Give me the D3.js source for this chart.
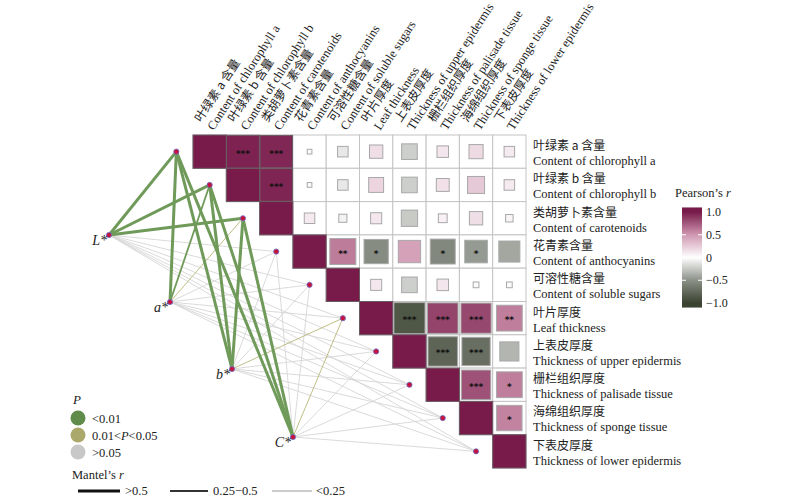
<!DOCTYPE html>
<html>
<head>
<meta charset="utf-8">
<script src="https://cdn.jsdelivr.net/npm/d3@7"></script>
<style>
  body { margin: 0; background: #fff; }
  svg text { font-family: "Liberation Serif", "Times New Roman", serif; }
  .cn { font-family: "Noto Sans CJK SC", sans-serif; }
</style>
</head>
<body>
<svg id="chart" width="800" height="499"></svg>
<script>
// variable labels (same order for rows and columns)
var labelsCn = ['叶绿素 a 含量', '叶绿素 b 含量', '类胡萝卜素含量', '花青素含量', '可溶性糖含量',
    '叶片厚度', '上表皮厚度', '栅栏组织厚度', '海绵组织厚度', '下表皮厚度'];
var labelsEn = ['Content of chlorophyll a', 'Content of chlorophyll b', 'Content of carotenoids',
    'Content of anthocyanins', 'Content of soluble sugars', 'Leaf thickness',
    'Thickness of upper epidermis', 'Thickness of palisade tissue', 'Thickness of sponge tissue',
    'Thickness of lower epidermis'];

// Pearson's r, upper triangle: row i holds columns i..9
var corrRows = [
    [1, 0.97, 0.95, 0.02, -0.10, 0.16, -0.22, 0.12, 0.18, 0.10],
    [1, 0.96, 0.02, -0.10, 0.20, -0.22, 0.15, 0.26, 0.10],
    [1, 0.10, -0.06, 0.11, -0.24, 0.07, 0.16, 0.05],
    [1, 0.61, -0.53, 0.45, -0.56, -0.46, -0.40],
    [1, 0.11, -0.22, 0.12, 0.03, 0.03],
    [1, -0.87, 0.84, 0.82, 0.60],
    [1, -0.78, -0.72, -0.33],
    [1, 0.78, 0.60],
    [1, 0.58],
    [1]
];
var sigRows = [
    ['', '***', '***', '', '', '', '', '', '', ''],
    ['', '***', '', '', '', '', '', '', ''],
    ['', '', '', '', '', '', '', ''],
    ['', '**', '*', '', '*', '*', ''],
    ['', '', '', '', '', ''],
    ['', '***', '***', '***', '**'],
    ['', '***', '***', ''],
    ['', '***', '*'],
    ['', '*'],
    ['']
];

// Mantel test: environment groups vs. each variable
var groups = ['L*', 'a*', 'b*', 'C*'];
var mantelR = [
    [0.62, 0.58, 0.55, 0.08, 0.10, 0.12, 0.06, 0.09, 0.07, 0.05],
    [0.56, 0.41, 0.18, 0.07, 0.09, 0.11, 0.05, 0.08, 0.06, 0.04],
    [0.60, 0.57, 0.52, 0.10, 0.08, 0.20, 0.07, 0.10, 0.09, 0.06],
    [0.63, 0.60, 0.54, 0.09, 0.07, 0.21, 0.08, 0.11, 0.10, 0.05]
];
var mantelP = [
    [0.001, 0.001, 0.002, 0.42, 0.36, 0.28, 0.55, 0.40, 0.47, 0.61],
    [0.001, 0.004, 0.030, 0.49, 0.38, 0.31, 0.58, 0.44, 0.52, 0.66],
    [0.001, 0.001, 0.003, 0.35, 0.41, 0.040, 0.50, 0.37, 0.43, 0.57],
    [0.001, 0.001, 0.002, 0.39, 0.45, 0.020, 0.47, 0.33, 0.38, 0.60]
];

var pLevels = ['<0.01', '0.01<P<0.05', '>0.05'];
var rLevels = ['>0.5', '0.25\u22120.5', '<0.25'];
var colorTicks = [1.0, 0.5, 0, -0.5, -1.0];

var svg = d3.select('#chart');
var n = labelsEn.length;
var idx = d3.range(n);

var band = d3.scaleBand().domain(idx).range([193, 526]);
var bandY = d3.scaleBand().domain(idx).range([135, 468]);
var cell = band.bandwidth();
var side = d3.scaleSqrt().domain([0, 1]).range([0, cell]);
var color = d3.scaleLinear()
    .domain([-1, -0.5, 0, 0.5, 1])
    .range(['#3a4230', '#8c9188', '#ffffff', '#cf97b0', '#781b4b']);

var cells = [];
corrRows.forEach(function(row, i) {
    row.forEach(function(r, k) {
        cells.push({i: i, j: i + k, r: r, sig: sigRows[i][k]});
    });
});

// ---- network (Mantel) ----
var nodePos = [[109, 235], [170, 302], [232, 369], [293, 437]];
var edges = [];
groups.forEach(function(g, gi) {
    idx.forEach(function(j) {
        edges.push({g: gi, j: j, r: mantelR[gi][j], p: mantelP[gi][j]});
    });
});
edges.sort(function(a, b) { return b.p - a.p; });

function pClass(p) { return p < 0.01 ? 0 : (p < 0.05 ? 1 : 2); }
function rClass(r) { return r > 0.5 ? 0 : (r >= 0.25 ? 1 : 2); }
var edgeColor = ['#6f9a5a', '#b8b878', '#d6d6d6'];
var edgeWidth = [3, 1.8, 0.9];
function endX(j) { return band(j) - cell / 2; }
function endY(j) { return bandY(j) + cell / 2; }

svg.append('g').selectAll('line')
    .data(edges)
    .enter().append('line')
        .attr('x1', function(d) { return nodePos[d.g][0]; })
        .attr('y1', function(d) { return nodePos[d.g][1]; })
        .attr('x2', function(d) { return endX(d.j); })
        .attr('y2', function(d) { return endY(d.j); })
        .style('stroke', function(d) { return edgeColor[pClass(d.p)]; })
        .style('stroke-width', function(d) { return edgeWidth[rClass(d.r)]; });

// ---- correlation matrix ----
var grid = svg.append('g');
grid.selectAll('rect.cell')
    .data(cells)
    .enter().append('rect')
        .attr('class', 'cell')
        .attr('x', function(d) { return band(d.j); })
        .attr('y', function(d) { return bandY(d.i); })
        .attr('width', cell)
        .attr('height', cell)
        .style('fill', '#fff')
        .style('stroke', '#c4c4c4')
        .style('stroke-width', 1);

grid.selectAll('rect.sq')
    .data(cells)
    .enter().append('rect')
        .attr('class', 'sq')
        .attr('x', function(d) { return band(d.j) + (cell - side(Math.abs(d.r))) / 2; })
        .attr('y', function(d) { return bandY(d.i) + (cell - side(Math.abs(d.r))) / 2; })
        .attr('width', function(d) { return side(Math.abs(d.r)); })
        .attr('height', function(d) { return side(Math.abs(d.r)); })
        .style('fill', function(d) { return color(d.r); })
        .style('stroke', function(d) { return Math.abs(d.r) > 0.9 ? '#6a5a62' : '#a8a8a8'; })
        .style('stroke-width', 1);

grid.selectAll('text.sig')
    .data(cells.filter(function(d) { return d.sig; }))
    .enter().append('text')
        .attr('class', 'sig')
        .attr('x', function(d) { return band(d.j) + cell / 2; })
        .attr('y', function(d) { return bandY(d.i) + cell / 2 + 5; })
        .attr('text-anchor', 'middle')
        .style('font-family', 'DejaVu Sans, sans-serif')
        .style('font-size', '9px')
        .style('font-weight', 'bold')
        .style('fill', '#111')
        .text(function(d) { return d.sig; });

// ---- node points and labels ----
var nodeG = svg.append('g');
idx.forEach(function(j) {
    nodeG.append('circle').attr('cx', endX(j)).attr('cy', endY(j)).attr('r', 2.6)
        .style('fill', '#c8123c').style('stroke', '#6a70c8').style('stroke-width', 0.8);
});
groups.forEach(function(g, gi) {
    nodeG.append('circle').attr('cx', nodePos[gi][0]).attr('cy', nodePos[gi][1]).attr('r', 2.6)
        .style('fill', '#c8123c').style('stroke', '#6a70c8').style('stroke-width', 0.8);
    nodeG.append('text')
        .attr('x', nodePos[gi][0] - 2)
        .attr('y', nodePos[gi][1] + 10)
        .attr('text-anchor', 'end')
        .style('font-size', '14px')
        .style('font-style', 'italic')
        .style('fill', '#222')
        .text(g);
});

// ---- right labels ----
var rightG = svg.append('g');
idx.forEach(function(i) {
    rightG.append('text').attr('class', 'cn')
        .attr('x', 533).attr('y', bandY(i) + 15)
        .style('font-size', '12px').style('fill', '#222')
        .text(labelsCn[i]);
    rightG.append('text')
        .attr('x', 533).attr('y', bandY(i) + 30)
        .style('font-size', '12.5px').style('fill', '#222')
        .text(labelsEn[i]);
});

// ---- top labels ----
var topG = svg.append('g');
idx.forEach(function(j) {
    var g = topG.append('g')
        .attr('transform', 'translate(' + (band(j) + cell / 2 + 4) + ',131) rotate(-57)');
    g.append('text').attr('class', 'cn')
        .attr('x', 0).attr('y', -15)
        .style('font-size', '12px').style('fill', '#222')
        .text(labelsCn[j]);
    g.append('text')
        .attr('x', 0).attr('y', 0)
        .style('font-size', '12.5px').style('fill', '#222')
        .text(labelsEn[j]);
});

// ---- Pearson's r colour bar ----
var cb = svg.append('g');
var cbY = d3.scaleLinear().domain([-1, 1]).range([303, 212]);
var grad = svg.append('defs').append('linearGradient')
    .attr('id', 'cbGrad').attr('x1', 0).attr('y1', 1).attr('x2', 0).attr('y2', 0);
d3.range(-1.1, 1.11, 0.1).forEach(function(v) {
    grad.append('stop')
        .attr('offset', (v + 1.1) / 2.2)
        .attr('stop-color', color(Math.max(-1, Math.min(1, v))));
});
cb.append('text').attr('x', 675).attr('y', 197)
    .style('font-size', '12.5px').style('fill', '#222')
    .html('Pearson\u2019s <tspan font-style="italic">r</tspan>');
cb.append('rect').attr('x', 682).attr('y', cbY(1.1)).attr('width', 20)
    .attr('height', cbY(-1.1) - cbY(1.1)).style('fill', 'url(#cbGrad)');
[0.5, -0.5].forEach(function(v) {
    cb.append('line').attr('x1', 682).attr('x2', 686).attr('y1', cbY(v)).attr('y2', cbY(v))
        .style('stroke', '#fff').style('stroke-width', 1);
    cb.append('line').attr('x1', 698).attr('x2', 702).attr('y1', cbY(v)).attr('y2', cbY(v))
        .style('stroke', '#fff').style('stroke-width', 1);
});
cb.selectAll('text.tick')
    .data(colorTicks)
    .enter().append('text')
        .attr('class', 'tick')
        .attr('x', 706)
        .attr('y', function(d) { return cbY(d) + 4; })
        .style('font-size', '12px').style('fill', '#222')
        .text(function(d) { return d === 0 ? '0' : d3.format('.1f')(d).replace('-', '\u2212'); });

// ---- P legend ----
var pl = svg.append('g');
pl.append('text').attr('x', 73).attr('y', 404)
    .style('font-size', '13px').style('font-style', 'italic').style('fill', '#222').text('P');
var legendColor = ['#5f8c4a', '#aaa86a', '#c8c8c8'];
pLevels.forEach(function(lab, k) {
    var y = 418 + k * 17;
    pl.append('circle').attr('cx', 78).attr('cy', y).attr('r', 7.5).style('fill', legendColor[k]);
    var t = pl.append('text').attr('x', 92).attr('y', y + 4.5)
        .style('font-size', '12.5px').style('fill', '#222');
    if (k === 1) {
        t.html('0.01&lt;<tspan font-style="italic">P</tspan>&lt;0.05');
    } else {
        t.text(lab);
    }
});

// ---- Mantel's r legend ----
var ml = svg.append('g');
ml.append('text').attr('x', 72).attr('y', 479)
    .style('font-size', '12.5px').style('fill', '#222')
    .html('Mantel\u2019s <tspan font-style="italic">r</tspan>');
var mlX = [[78, 120, 125], [170, 208, 213], [272, 312, 316]];
var mlColor = ['#111', '#333', '#999'];
var mlWidth = [3, 1.8, 1.2];
rLevels.forEach(function(lab, k) {
    ml.append('line').attr('x1', mlX[k][0]).attr('x2', mlX[k][1]).attr('y1', 491).attr('y2', 491)
        .style('stroke', mlColor[k]).style('stroke-width', mlWidth[k]);
    ml.append('text').attr('x', mlX[k][2]).attr('y', 495)
        .style('font-size', '12.5px').style('fill', '#222').text(lab);
});
</script>
</body>
</html>
